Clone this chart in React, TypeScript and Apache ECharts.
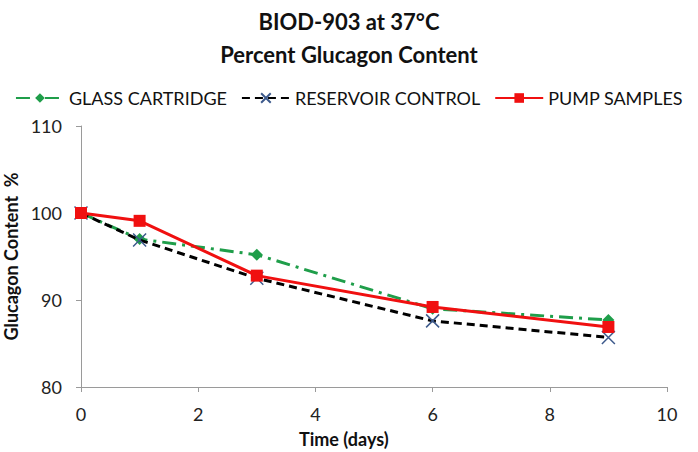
import React, { useEffect, useRef } from "react";
import * as echarts from "echarts";

const days = [0, 1, 3, 6, 9];
const glassCartridge = [100, 97.0, 95.2, 89.0, 87.7];
const reservoirControl = [100, 96.9, 92.5, 87.6, 85.7];
const pumpSamples = [100, 99.1, 92.8, 89.2, 86.9];
const titleLines = ["BIOD-903 at 37°C", "Percent Glucagon Content"];
const xAxisTitle = "Time (days)";
const yAxisTitle = "Glucagon Content  %";

const pairs = (ys: number[]) => days.map((d, i) => [d, ys[i]]);

export default function App() {
  const ref = useRef<HTMLDivElement>(null);
  useEffect(() => {
    const chart = echarts.init(ref.current!, null, { renderer: "svg" });
    const font = "Lato, 'Open Sans', sans-serif";
    chart.setOption({
      animation: false,
      textStyle: { fontFamily: font },
      title: [
        { text: titleLines[0], left: "center", top: 5, textStyle: { fontSize: 22, fontWeight: "bold", color: "#111", fontFamily: font } },
        { text: titleLines[1], left: "center", top: 38, textStyle: { fontSize: 22, fontWeight: "bold", color: "#111", fontFamily: font } },
      ],
      legend: {
        top: 84,
        left: "center",
        itemWidth: 48,
        itemHeight: 12,
        itemGap: 14,
        textStyle: { fontSize: 18, color: "#111", fontFamily: font },
        data: ["GLASS CARTRIDGE", "RESERVOIR CONTROL", "PUMP SAMPLES"],
      },
      graphic: [
        {
          type: "text",
          left: 349 - 50,
          top: 430,
          style: { text: xAxisTitle, fontSize: 18, fontWeight: "bold", fill: "#111", fontFamily: font, width: 100, align: "center" },
        },
      ],
      grid: { left: 81, right: 31, top: 126, bottom: 65, containLabel: false, outerBoundsMode: "none" },
      xAxis: {
        type: "value",
        min: 0,
        max: 10,
        interval: 2,
        axisLine: { lineStyle: { color: "#9a9a9a" } },
        axisTick: { show: true, length: 5, lineStyle: { color: "#9a9a9a" } },
        axisLabel: { fontSize: 18, color: "#222", margin: 18 },
        splitLine: { show: false },
      },
      yAxis: {
        type: "value",
        min: 80,
        max: 110,
        interval: 10,
        name: yAxisTitle,
        nameLocation: "middle",
        nameGap: 60,
        nameTextStyle: { fontSize: 18, fontWeight: "bold", color: "#111" },
        axisLine: { show: true, lineStyle: { color: "#9a9a9a" } },
        axisTick: { show: true, length: 5, lineStyle: { color: "#9a9a9a" } },
        axisLabel: { fontSize: 18, color: "#222", margin: 19 },
        splitLine: { show: false },
      },
      series: [
        {
          name: "GLASS CARTRIDGE",
          type: "line",
          data: pairs(glassCartridge),
          symbol: "diamond",
          symbolSize: 12,
          itemStyle: { color: "#1f9e4a" },
          lineStyle: { color: "#1f9e4a", width: 3, type: [14, 6, 3, 6] },
          z: 2,
        },
        {
          name: "RESERVOIR CONTROL",
          type: "line",
          data: pairs(reservoirControl),
          symbol: "path://M0,0 L10,10 M10,0 L0,10",
          symbolSize: 13,
          itemStyle: { color: "none", borderColor: "#3d5a8c", borderWidth: 1.5 },
          lineStyle: { color: "#000", width: 3, type: [8, 5] },
          z: 3,
        },
        {
          name: "PUMP SAMPLES",
          type: "line",
          data: pairs(pumpSamples),
          symbol: "rect",
          symbolSize: 12,
          itemStyle: { color: "#f01010" },
          lineStyle: { color: "#f01010", width: 3 },
          z: 4,
        },
      ],
    });
    return () => chart.dispose();
  }, []);
  return <div ref={ref} style={{ width: 698, height: 452, position: "absolute", left: 0, top: 0 }} />;
}
